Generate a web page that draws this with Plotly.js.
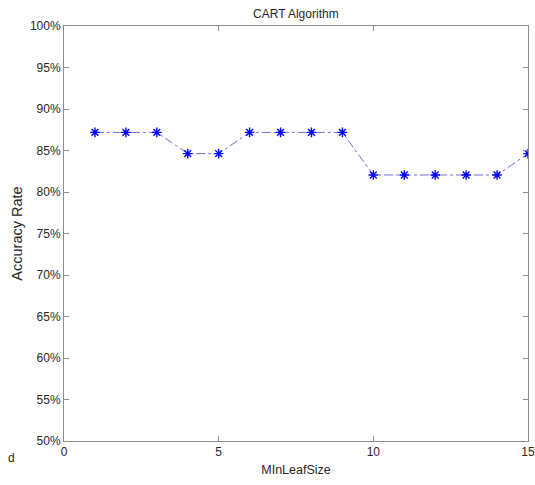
<!DOCTYPE html>
<html>
<head>
<meta charset="utf-8">
<script src="https://cdn.plot.ly/plotly-3.0.1.min.js"></script>
<style>html,body{margin:0;padding:0;background:#fff;}#chart{width:535px;height:485px;}</style>
</head>
<body>
<div id="chart"></div>
<script>
const minLeafSize = [1,2,3,4,5,6,7,8,9,10,11,12,13,14,15];
const accuracyRate = [0.8718,0.8718,0.8718,0.8462,0.8462,0.8718,0.8718,0.8718,0.8718,0.8205,0.8205,0.8205,0.8205,0.8205,0.8462];
const xTicks = [0,5,10,15];
const yTicks = [0.5,0.55,0.6,0.65,0.7,0.75,0.8,0.85,0.9,0.95,1.0];

const font = {family: 'Liberation Sans, Arial, sans-serif', size: 12, color: '#262626'};

const traces = [
  {
    x: minLeafSize, y: accuracyRate, type: 'scatter', mode: 'lines',
    line: {color: 'rgba(60,60,200,0.75)', width: 1, dash: 'dashdot'},
    hoverinfo: 'skip', showlegend: false
  },
  {
    x: minLeafSize, y: accuracyRate, type: 'scatter', mode: 'markers',
    marker: {symbol: 'asterisk-open', size: 8, color: '#0000ff', line: {color: '#1a1ae6', width: 1.4}},
    showlegend: false
  }
];

const axisCommon = {
  showline: true, mirror: 'ticks', linecolor: '#8c8c8c', linewidth: 1,
  ticks: 'inside', ticklen: 5, tickcolor: '#8c8c8c', tickwidth: 1,
  showgrid: false, zeroline: false, tickfont: font
};

const layout = {
  width: 535, height: 485,
  margin: {l: 64, r: 7, t: 26, b: 44},
  paper_bgcolor: '#fff', plot_bgcolor: '#fff',
  font: font,
  title: {text: 'CART Algorithm', font: {family: font.family, size: 12, color: '#262626'}, x: 0.553, xanchor: 'center', y: 0.972, yanchor: 'middle'},
  xaxis: Object.assign({}, axisCommon, {
    range: [0, 15], tickvals: xTicks, ticktext: xTicks.map(String),
    title: {text: 'MInLeafSize', font: {family: font.family, size: 12.5, color: '#262626'}, standoff: 6}
  }),
  yaxis: Object.assign({}, axisCommon, {
    range: [0.5, 1.0], tickvals: yTicks, ticktext: yTicks.map(v => Math.round(v*100) + '%'),
    title: {text: 'Accuracy Rate', font: {family: font.family, size: 14.5, color: '#262626'}, standoff: 3}
  }),
  annotations: [
    {text: 'd', xref: 'paper', yref: 'paper', x: -0.125, y: -0.04, xanchor: 'left', yanchor: 'middle', showarrow: false, font: {family: font.family, size: 12, color: '#262626'}}
  ]
};

Plotly.newPlot('chart', traces, layout, {displayModeBar: false, staticPlot: true});
</script>
</body>
</html>
